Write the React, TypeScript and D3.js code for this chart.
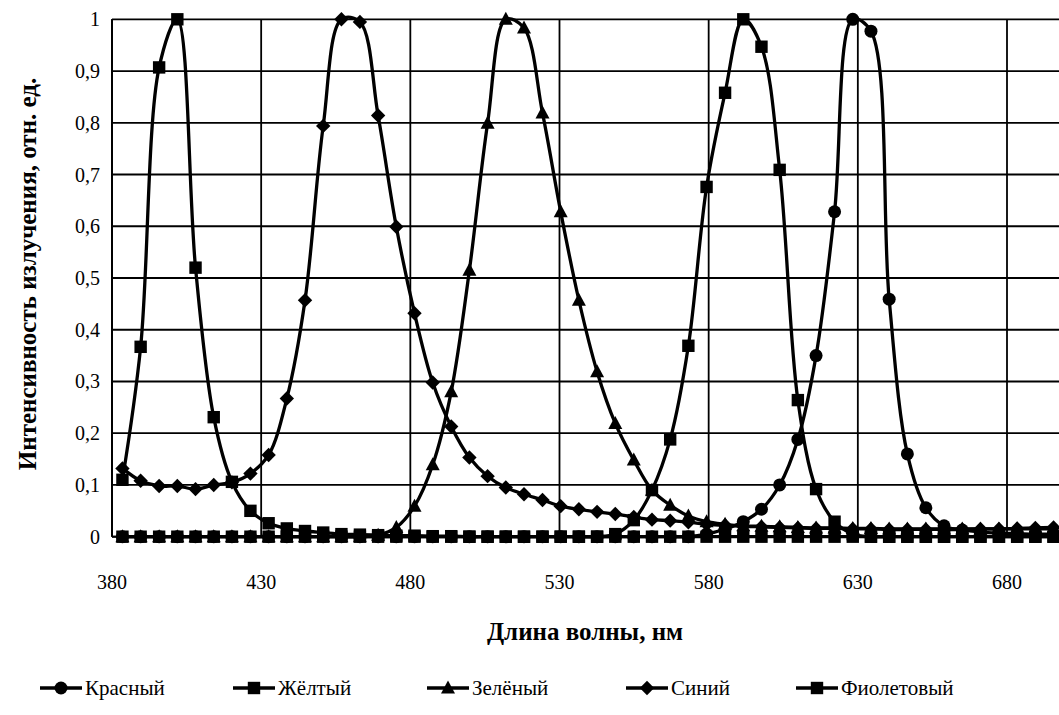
import React from "react";
import * as d3 from "d3";

const wavelengths = [
  383.5, 389.6, 395.8, 401.9, 408.0, 414.1, 420.2, 426.4, 432.5, 438.6,
  444.7, 450.8, 456.9, 463.1, 469.2, 475.3, 481.4, 487.5, 493.7, 499.8,
  505.9, 512.0, 518.1, 524.3, 530.4, 536.5, 542.6, 548.7, 554.9, 561.0,
  567.1, 573.2, 579.3, 585.5, 591.6, 597.7, 603.8, 609.9, 616.0, 622.2,
  628.3, 634.4, 640.5, 646.6, 652.8, 658.9, 665.0, 671.1, 677.3, 683.4,
  689.5, 695.6,
];

const red = [
  0, 0, 0, 0, 0, 0, 0, 0, 0, 0,
  0, 0, 0, 0, 0, 0, 0, 0, 0, 0,
  0, 0, 0, 0, 0, 0, 0, 0, 0, 0,
  0, 0, 0.005, 0.015, 0.029, 0.053, 0.1, 0.188, 0.35, 0.628,
  1.0, 0.977, 0.459, 0.16, 0.056, 0.021, 0.013, 0.009, 0.007, 0.006,
  0.005, 0.005,
];

const yellow = [
  0, 0, 0, 0, 0, 0, 0, 0, 0, 0,
  0, 0, 0, 0, 0, 0, 0, 0, 0, 0,
  0, 0, 0, 0, 0, 0, 0, 0.005, 0.032, 0.09,
  0.188, 0.369, 0.676, 0.858, 1.0, 0.947, 0.709, 0.264, 0.092, 0.029,
  0.005, 0, 0, 0, 0, 0, 0, 0, 0, 0,
  0, 0,
];

const green = [
  0, 0, 0, 0, 0, 0, 0, 0, 0, 0,
  0, 0, 0, 0, 0.003, 0.018, 0.059, 0.139, 0.28, 0.515,
  0.799, 1.0, 0.983, 0.819, 0.628, 0.457, 0.319, 0.219, 0.148, 0.09,
  0.061, 0.04, 0.029, 0.024, 0.021, 0.02, 0.019, 0.018, 0.017, 0.017,
  0.016, 0.016, 0.015, 0.015, 0.015, 0.015, 0.015, 0.015, 0.015, 0.015,
  0.015, 0.015,
];

const blue = [
  0.132, 0.108, 0.098, 0.098, 0.092, 0.1, 0.105, 0.122, 0.158, 0.267,
  0.457, 0.794, 1.0, 0.995, 0.814, 0.599, 0.432, 0.298, 0.213, 0.153,
  0.117, 0.095, 0.082, 0.071, 0.059, 0.053, 0.048, 0.044, 0.038, 0.033,
  0.031, 0.028, 0.024, 0.022, 0.02, 0.019, 0.018, 0.017, 0.016, 0.016,
  0.015, 0.015, 0.014, 0.014, 0.014, 0.014, 0.014, 0.015, 0.015, 0.016,
  0.017, 0.018,
];

const violet = [
  0.11, 0.367, 0.907, 1.0, 0.52, 0.231, 0.106, 0.05, 0.026, 0.016,
  0.011, 0.008, 0.005, 0.004, 0.003, 0.002, 0.002, 0.001, 0.001, 0,
  0, 0, 0, 0, 0, 0, 0, 0, 0, 0,
  0, 0, 0, 0, 0, 0, 0, 0, 0, 0,
  0, 0, 0, 0, 0, 0, 0, 0, 0, 0,
  0, 0,
];

const seriesNames = ["Красный", "Жёлтый", "Зелёный", "Синий", "Фиолетовый"];
const seriesValues = [red, yellow, green, blue, violet];
const markerTypes = ["circle", "square", "triangle", "diamond", "square"];

const xTicks = [380, 430, 480, 530, 580, 630, 680];
const yTicks = [0, 0.1, 0.2, 0.3, 0.4, 0.5, 0.6, 0.7, 0.8, 0.9, 1];
const yTickLabels = ["0", "0,1", "0,2", "0,3", "0,4", "0,5", "0,6", "0,7", "0,8", "0,9", "1"];

const xTitle = "Длина волны, нм";
const yTitle = "Интенсивность излучения, отн. ед.";

const legendX = [40, 233, 427, 626, 796];

const FONT = "serif";

function Marker({ type, cx, cy }: { type: string; cx: number; cy: number }) {
  if (type === "circle") return <circle cx={cx} cy={cy} r={6.5} fill="#000" />;
  if (type === "square")
    return <rect x={cx - 6.2} y={cy - 6.2} width={12.4} height={12.4} fill="#000" />;
  if (type === "triangle")
    return (
      <path
        d={`M${cx},${cy - 7.5}L${cx + 7},${cy + 5.5}L${cx - 7},${cy + 5.5}Z`}
        fill="#000"
      />
    );
  return (
    <path
      d={`M${cx},${cy - 7.2}L${cx + 7.2},${cy}L${cx},${cy + 7.2}L${cx - 7.2},${cy}Z`}
      fill="#000"
    />
  );
}

export default function App() {
  const W = 1059;
  const H = 715;
  const left = 112;
  const top = 19.3;
  const bottom = 536.7;
  const x = d3.scaleLinear().domain([380, 680]).range([left, 1007]);
  const y = d3.scaleLinear().domain([0, 1]).range([bottom, top]);
  const right = x(700);

  const line = d3
    .line<number>()
    .x((_, i) => x(wavelengths[i]))
    .y((d) => y(d))
    .curve(d3.curveCatmullRom.alpha(0.5));

  const xGrid = d3.range(380, 701, 50);

  return (
    <svg
      width={W}
      height={H}
      style={{ position: "absolute", left: 0, top: 0, background: "#fff", fontFamily: FONT }}
    >
      <rect x={0} y={0} width={W} height={H} fill="#fff" />
      {yTicks.map((t) => (
        <line key={"gy" + t} x1={left} x2={right} y1={y(t)} y2={y(t)} stroke="#000" strokeWidth={1.8} />
      ))}
      {xGrid.map((t) => (
        <line key={"gx" + t} x1={x(t)} x2={x(t)} y1={top} y2={bottom} stroke="#000" strokeWidth={1.8} />
      ))}
      <line x1={left} x2={left} y1={top} y2={bottom} stroke="#000" strokeWidth={2} />
      <line x1={left} x2={right} y1={bottom} y2={bottom} stroke="#000" strokeWidth={2} />

      {seriesValues.map((vals, si) => (
        <g key={seriesNames[si]}>
          <path d={line(vals) || ""} fill="none" stroke="#000" strokeWidth={3.3} />
          {vals.map((v, i) => (
            <Marker key={i} type={markerTypes[si]} cx={x(wavelengths[i])} cy={y(v)} />
          ))}
        </g>
      ))}

      {yTicks.map((t, i) => (
        <text key={"yl" + t} x={100} y={y(t)} dy="0.35em" textAnchor="end" fontSize={20} fill="#000" style={{ fontFamily: FONT }}>
          {yTickLabels[i]}
        </text>
      ))}
      {xTicks.map((t) => (
        <text key={"xl" + t} x={x(t)} y={582} dy="0.35em" textAnchor="middle" fontSize={20} fill="#000" style={{ fontFamily: FONT }}>
          {t}
        </text>
      ))}

      <text x={585} y={631} dy="0.35em" textAnchor="middle" fontSize={25} fontWeight="bold" fill="#000" style={{ fontFamily: FONT }}>
        {xTitle}
      </text>
      <text
        transform={`translate(27,274) rotate(-90)`}
        dy="0.35em"
        textAnchor="middle"
        fontSize={25}
        fontWeight="bold"
        fill="#000"
        style={{ fontFamily: FONT }}
      >
        {yTitle}
      </text>

      {seriesNames.map((name, i) => {
        const lx = legendX[i];
        const ly = 688;
        return (
          <g key={"lg" + name}>
            <line x1={lx} x2={lx + 42} y1={ly} y2={ly} stroke="#000" strokeWidth={3.3} />
            <Marker type={markerTypes[i]} cx={lx + 21} cy={ly} />
            <text x={lx + 45} y={ly} dy="0.35em" fontSize={21} fill="#000" style={{ fontFamily: FONT }}>
              {name}
            </text>
          </g>
        );
      })}
    </svg>
  );
}
